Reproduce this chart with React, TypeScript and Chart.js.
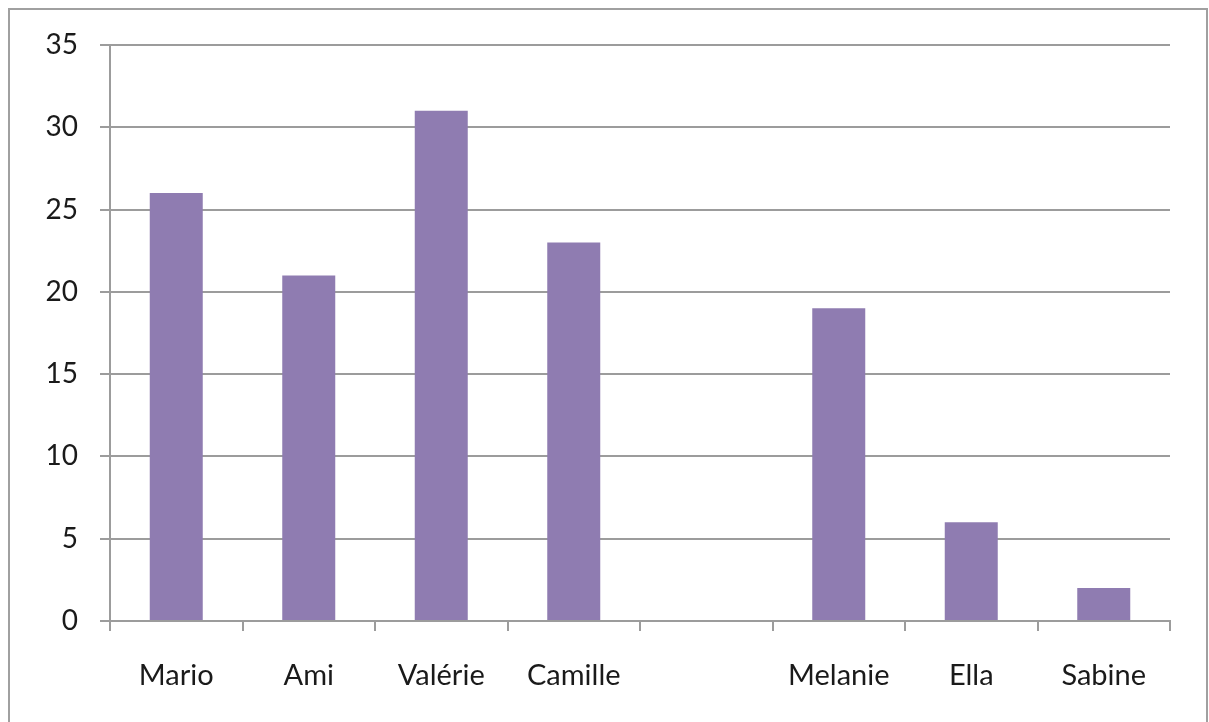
import React, { useEffect, useRef } from "react";
import { Chart, registerables } from "chart.js";

Chart.register(...registerables);

const categories: string[] = ["Mario", "Ami", "Valérie", "Camille", "", "Melanie", "Ella", "Sabine"];
const counts: (number | null)[] = [26, 21, 31, 23, null, 19, 6, 2];
const yTicks: number[] = [0, 5, 10, 15, 20, 25, 30, 35];

const GRID = "#9c9c9c";
const BAR = "#8f7cb1";
const FONT = "Lato, 'Open Sans', sans-serif";

export default function App() {
  const ref = useRef<HTMLCanvasElement | null>(null);

  useEffect(() => {
    document.body.style.margin = "0";
    const canvas = ref.current;
    if (!canvas) return;
    const chart = new Chart(canvas, {
      type: "bar",
      data: {
        labels: categories,
        datasets: [
          {
            data: counts,
            backgroundColor: BAR,
            borderWidth: 0,
            barPercentage: 0.4,
            categoryPercentage: 1,
          },
        ],
      },
      options: {
        responsive: false,
        animation: false,
        layout: { padding: { left: 0, right: 39, top: 45, bottom: 0 } },
        plugins: { legend: { display: false }, tooltip: { enabled: false } },
        scales: {
          x: {
            grid: {
              offset: true,
              drawOnChartArea: false,
              drawTicks: true,
              tickLength: 10,
              color: GRID,
              lineWidth: 2,
            },
            border: { color: GRID, width: 2 },
            ticks: {
              color: "#1a1a1a",
              font: { family: FONT, size: 29 },
              padding: 27,
              maxRotation: 0,
              autoSkip: false,
            },
            afterFit: (s: any) => {
              s.height = 722 - 621;
            },
          },
          y: {
            min: 0,
            max: 35,
            afterBuildTicks: (s: any) => {
              s.ticks = yTicks.map((v) => ({ value: v }));
            },
            grid: {
              color: GRID,
              lineWidth: 2,
              drawTicks: true,
              tickLength: 10,
            },
            border: { color: GRID, width: 2 },
            ticks: {
              color: "#1a1a1a",
              font: { family: FONT, size: 28 },
              padding: 22,
            },
            afterFit: (s: any) => {
              s.width = 110;
            },
          },
        },
      },
    });
    return () => chart.destroy();
  }, []);

  return (
    <div style={{ position: "relative", width: 1209, height: 722, overflow: "hidden", background: "#fff" }}>
      <canvas ref={ref} width={1209} height={722} style={{ position: "absolute", left: 0, top: 0 }} />
      <div
        style={{
          position: "absolute",
          left: 8,
          top: 8,
          width: 1196,
          height: 740,
          border: "2px solid #a0a0a0",
          pointerEvents: "none",
        }}
      />
    </div>
  );
}
